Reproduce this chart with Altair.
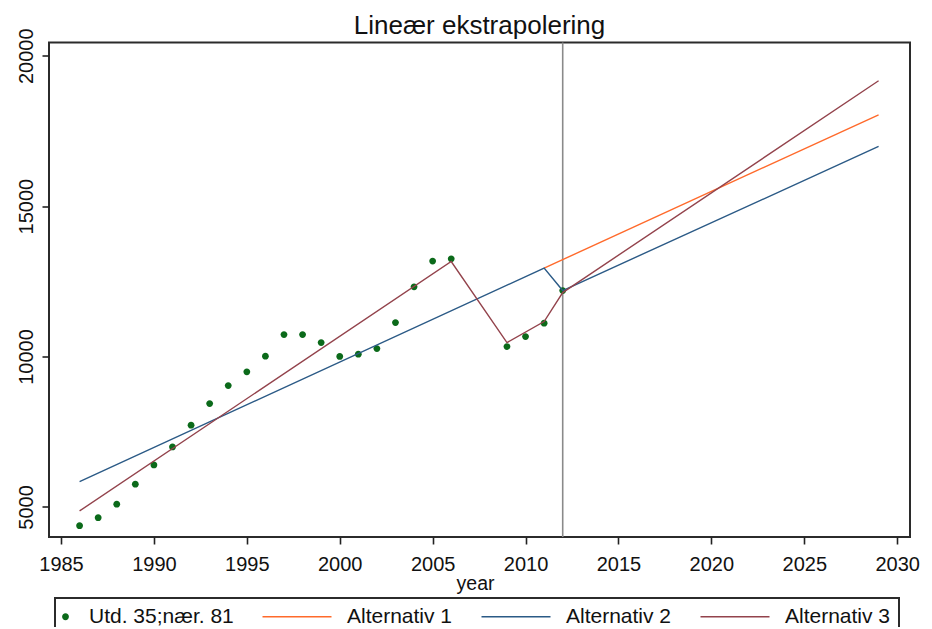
import altair as alt
import pandas as pd

# ---- data ----
obs_years = [1986, 1987, 1988, 1989, 1990, 1991, 1992, 1993, 1994, 1995, 1996,
             1997, 1998, 1999, 2000, 2001, 2002, 2003, 2004, 2005, 2006,
             2009, 2010, 2011, 2012]
obs_values = [4378, 4644, 5090, 5755, 6397, 6995, 7717, 8436, 9034, 9490, 10012,
              10731, 10731, 10464, 10005, 10079, 10265, 11130, 12317, 13172, 13248,
              10331, 10664, 11110, 12194]

alt1_years = [2011, 2029]
alt1_values = [12939, 18037]
alt2_years = [1986, 2011, 2012, 2029]
alt2_values = [5841, 12939, 12194, 16983]
alt3_years = [1986, 2006, 2009, 2011, 2012, 2029]
alt3_values = [4867, 13159, 10464, 11163, 12127, 19168]

series_names = ["Utd. 35;nær. 81", "Alternativ 1", "Alternativ 2", "Alternativ 3"]
series_colors = ["#0b6a1a", "#ff6a2b", "#2b5a86", "#93434c"]
x_ticks = [1985, 1990, 1995, 2000, 2005, 2010, 2015, 2020, 2025, 2030]
y_ticks = [5000, 10000, 15000, 20000]
vline_year = [2012]

# legend symbol shapes (unit space [-1,1] = 10px): small dot, and line samples
dot_path = "M-0.92,0A0.68,0.68 0 1,1 -2.28,0A0.68,0.68 0 1,1 -0.92,0Z"
line_path = "M-13.8,-0.15H0V0.15H-13.8Z"
series_shapes = [dot_path, line_path, line_path, line_path]
point_shape = "M0.68,0A0.68,0.68 0 1,1 -0.68,0A0.68,0.68 0 1,1 0.68,0Z"

obs_df = pd.DataFrame({"year": obs_years, "value": obs_values, "series": series_names[0]})
lines_df = pd.concat([
    pd.DataFrame({"year": alt1_years, "value": alt1_values, "series": series_names[1]}),
    pd.DataFrame({"year": alt2_years, "value": alt2_values, "series": series_names[2]}),
    pd.DataFrame({"year": alt3_years, "value": alt3_values, "series": series_names[3]}),
], ignore_index=True)
vline_df = pd.DataFrame({"year": vline_year})

FONT = "Liberation Sans"

x_enc = alt.X("year:Q",
              scale=alt.Scale(domain=[1984.354, 2030.69], nice=False, zero=False),
              axis=alt.Axis(values=x_ticks, format="d", title="year",
                            labelPadding=10, titleX=426, titleY=52.5,
                            titleBaseline="alphabetic", titleAlign="center",
                            titleFontSize=19.5, titleFontWeight="normal",
                            titleFont=FONT, titleColor="#111111"))
y_enc = alt.Y("value:Q",
              scale=alt.Scale(domain=[4000, 20440], nice=False, zero=False),
              axis=alt.Axis(values=y_ticks, format="d", title=None,
                            labelAngle=270, labelAlign="center",
                            labelBaseline="alphabetic", labelPadding=10))

color_scale = alt.Scale(domain=series_names, range=series_colors)
leg = alt.Legend(title=None, orient="none", legendX=6, legendY=555.5, direction="horizontal")

rule = alt.Chart(vline_df).mark_rule(color="#8a8a8a", strokeWidth=1.6).encode(x=x_enc)

# legend-only layer (no visible marks) carrying the combined legend
legend_layer = alt.Chart(obs_df).mark_point(filled=True, opacity=0, size=100).encode(
    x=x_enc, y=y_enc,
    color=alt.Color("series:N", scale=color_scale, legend=leg),
    shape=alt.Shape("series:N", scale=alt.Scale(domain=series_names, range=series_shapes),
                    legend=leg),
)

points = alt.Chart(obs_df).mark_point(filled=True, opacity=1, size=100,
                                      shape=point_shape).encode(
    x=x_enc, y=y_enc,
    color=alt.Color("series:N", scale=color_scale, legend=None),
)

lines = alt.Chart(lines_df).mark_line(strokeWidth=1.4).encode(
    x=x_enc, y=y_enc,
    color=alt.Color("series:N", scale=color_scale, legend=None),
    detail="series:N",
)

chart = alt.layer(rule, legend_layer, points, lines).properties(
    width=861, height=494.5,
    title=alt.Title("Lineær ekstrapolering", fontSize=26, font=FONT, fontWeight="normal",
                    color="#111111", anchor="middle", offset=4, dy=15),
    padding={"left": 41, "top": 34.5, "right": 14, "bottom": 90},
    autosize=alt.AutoSizeParams(type="none"),
).configure_view(
    stroke="#2b2b2b", strokeWidth=2
).configure_axis(
    domain=False, grid=False, tickColor="#222222", tickWidth=1.6, tickSize=7,
    labelFont=FONT, labelFontSize=20, labelColor="#111111",
).configure_legend(
    strokeColor="#2b2b2b", strokeWidth=2, padding=8, fillColor="white",
    symbolSize=100, symbolStrokeWidth=0, symbolOpacity=1,
    labelOffset=5, columnPadding=28,
    labelFont=FONT, labelFontSize=21, labelColor="#111111",
)

chart.save("out.html", embed_options={"renderer": "svg", "actions": False})
